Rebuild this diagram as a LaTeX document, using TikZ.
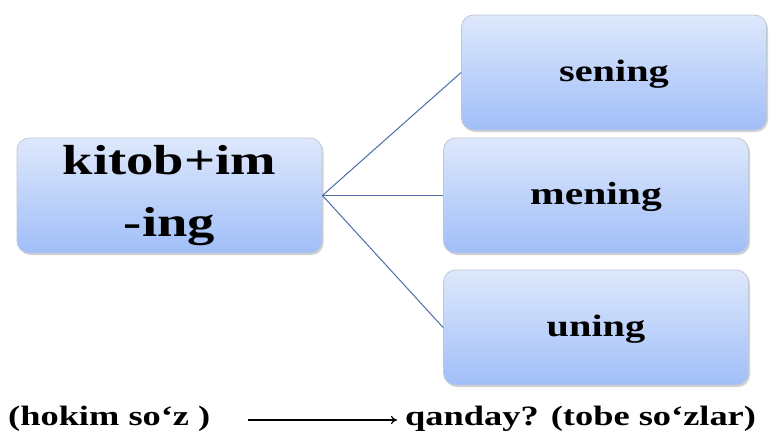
\documentclass[tikz,border=0pt]{standalone}
\usepackage{fontspec}
\setmainfont{Liberation Serif}
\newfontfamily\widefont[FakeStretch=1.3]{Liberation Serif}
\usetikzlibrary{shadows,arrows.meta}
\definecolor{boxtop}{RGB}{222,232,252}
\definecolor{boxbot}{RGB}{160,190,248}
\definecolor{boxline}{RGB}{190,200,215}
\definecolor{conn}{RGB}{74,110,165}
\tikzset{
  box/.style={draw=boxline, line width=0.8pt, rounded corners=12pt, top color=boxtop, bottom color=boxbot,
    minimum width=305pt, minimum height=115pt, inner sep=0pt, align=center,
    drop shadow={shadow xshift=1.5pt, shadow yshift=-2pt, opacity=0.35, fill=gray}},
  wordbox/.style={box, text height=25pt, text depth=8pt, font=\widefont\bfseries\fontsize{31}{36}\selectfont},
  conline/.style={draw=conn, line width=1pt},
  label/.style={inner sep=0pt, anchor=base west, font=\widefont\bfseries\fontsize{28}{32}\selectfont}
}
\begin{document}
\begin{tikzpicture}[x=1pt,y=-1pt]
\useasboundingbox (0,0) rectangle (773,439);
\node[box, font=\widefont\bfseries\fontsize{42}{62}\selectfont] (main) at (169.5,195.5) {kitob+im\\-ing};
\node[wordbox] (sen) at (614,72.5) {sening};
\node[wordbox, font=\widefont\bfseries\fontsize{32}{36}\selectfont] (men) at (596,195.5) {mening};
\node[wordbox] (un) at (596,327.5) {uning};
\coordinate (hub) at (main.east);
\draw[conline] (hub) -- (sen.west);
\draw[conline] (hub) -- (men.west);
\draw[conline] (hub) -- (un.west);
\node[label] (hok) at (8,425) {(hokim so‘z )};
\node[label] (qan) at (405,425) {qanday? (tobe so‘zlar)};
\coordinate (a1) at (248,420);
\coordinate (a2) at (397,420);
\draw[line width=1.2pt, -{To[length=6pt,width=8pt]}] (a1) -- (a2);
\end{tikzpicture}
\end{document}
